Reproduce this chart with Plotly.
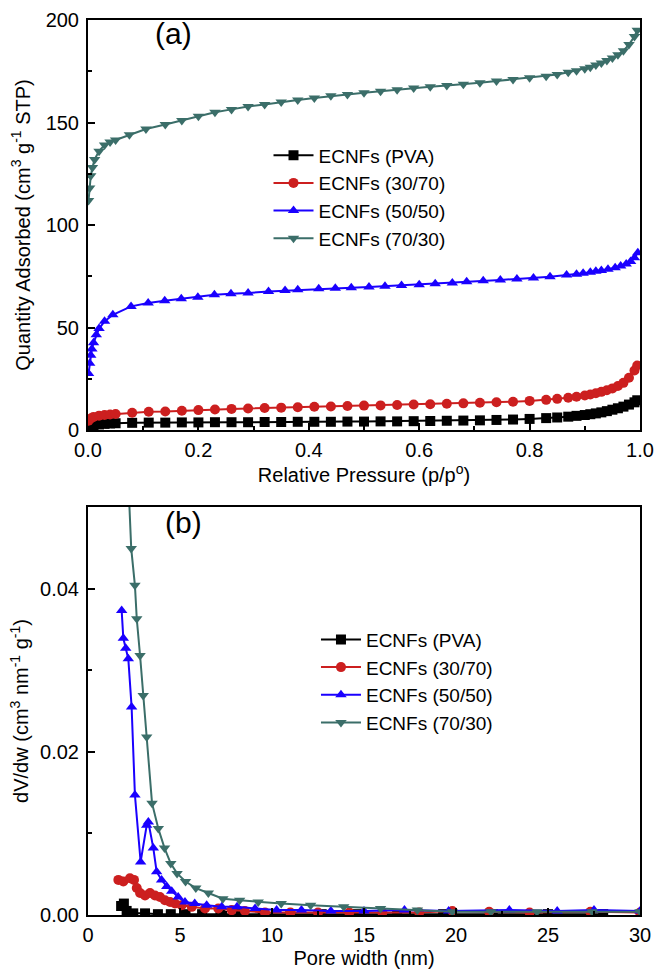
import plotly.graph_objects as go

# ---------------- (a) isotherms ----------------
p_pva = [0.001, 0.005, 0.01, 0.02, 0.03, 0.04, 0.05, 0.08, 0.11, 0.14, 0.17, 0.2, 0.23, 0.26, 0.29, 0.32,
         0.35, 0.38, 0.41, 0.44, 0.47, 0.5, 0.53, 0.56, 0.59, 0.62, 0.65, 0.68, 0.71, 0.74, 0.77, 0.8,
         0.83, 0.85, 0.87, 0.885, 0.9, 0.91, 0.92, 0.93, 0.94, 0.95, 0.96, 0.97, 0.98, 0.99, 0.995]
q_pva = [0.8, 1.6, 2.2, 2.7, 3.0, 3.2, 3.3, 3.5, 3.6, 3.6, 3.7, 3.7, 3.8, 3.8, 3.8, 3.9,
         3.9, 4.0, 4.0, 4.0, 4.1, 4.1, 4.2, 4.2, 4.3, 4.4, 4.5, 4.6, 4.7, 4.9, 5.1, 5.4,
         5.8, 6.1, 6.5, 6.9, 7.3, 7.7, 8.1, 8.6, 9.2, 9.9, 10.6, 11.4, 12.4, 13.5, 14.5]

p_3070 = [0.001, 0.005, 0.01, 0.02, 0.03, 0.04, 0.05, 0.08, 0.11, 0.14, 0.17, 0.2, 0.23, 0.26, 0.29, 0.32,
          0.35, 0.38, 0.41, 0.44, 0.47, 0.5, 0.53, 0.56, 0.59, 0.62, 0.65, 0.68, 0.71, 0.74, 0.77, 0.8,
          0.83, 0.85, 0.87, 0.885, 0.9, 0.91, 0.92, 0.93, 0.94, 0.95, 0.96, 0.97, 0.98, 0.99, 0.995]
q_3070 = [4.5, 5.6, 6.4, 7.0, 7.3, 7.6, 7.8, 8.4, 8.9, 9.0, 9.4, 9.7, 10.0, 10.3, 10.5, 10.7,
          10.9, 11.1, 11.3, 11.5, 11.7, 11.9, 12.0, 12.2, 12.4, 12.6, 12.8, 13.0, 13.3, 13.5, 13.8, 14.2,
          14.7, 15.2, 15.7, 16.2, 16.8, 17.3, 17.9, 18.6, 19.4, 20.3, 21.5, 23.0, 25.5, 29.0, 31.5]

p_5050 = [0.001, 0.003, 0.005, 0.007, 0.01, 0.015, 0.02, 0.03, 0.045, 0.078, 0.109, 0.139, 0.169, 0.199,
          0.229, 0.259, 0.29, 0.327, 0.357, 0.38, 0.418, 0.448, 0.477, 0.509, 0.538, 0.568, 0.6, 0.629,
          0.66, 0.686, 0.716, 0.747, 0.777, 0.807, 0.837, 0.867, 0.885, 0.897, 0.91, 0.92, 0.93, 0.942,
          0.955, 0.965, 0.975, 0.983, 0.99, 0.996]
q_5050 = [27.5, 32.5, 36.5, 39.5, 42.5, 46.5, 49.5, 53.0, 56.2, 60.3, 61.9, 63.0, 64.0, 64.8,
          66.0, 66.5, 66.8, 67.6, 68.0, 68.4, 68.9, 69.2, 69.4, 69.7, 70.1, 70.5, 70.9, 71.3,
          71.7, 72.3, 72.8, 73.2, 73.7, 74.1, 74.8, 75.6, 76.0, 76.5, 77.0, 77.4, 77.8, 78.4,
          79.2, 80.0, 81.0, 82.2, 84.0, 86.5]

p_7030 = [0.001, 0.003, 0.005, 0.008, 0.012, 0.02, 0.03, 0.04, 0.05, 0.075, 0.105, 0.14, 0.17, 0.2,
          0.23, 0.26, 0.29, 0.32, 0.35, 0.38, 0.41, 0.44, 0.47, 0.5, 0.53, 0.56, 0.59, 0.62, 0.65,
          0.68, 0.71, 0.74, 0.77, 0.8, 0.83, 0.85, 0.87, 0.885, 0.9, 0.91, 0.92, 0.93, 0.94, 0.95,
          0.96, 0.97, 0.98, 0.99, 0.995]
q_7030 = [112.0, 118.0, 124.0, 128.0, 132.0, 136.0, 139.0, 140.5, 141.5, 144.0, 146.8, 149.0, 151.0, 153.0,
          155.0, 156.4, 157.8, 158.8, 160.0, 161.0, 162.0, 163.0, 163.7, 164.5, 165.3, 166.0, 166.8, 167.4, 168.1,
          168.6, 169.4, 170.2, 171.0, 171.8, 172.6, 173.4, 174.5, 175.3, 176.2, 177.0, 178.0, 179.0, 180.2, 181.5,
          183.0, 185.0, 188.0, 192.0, 195.0]

# ---------------- (b) pore size distribution ----------------
w_pva = [1.8, 1.95, 2.1, 2.46, 3.1, 3.8, 4.5, 5.3, 6.2, 7.2, 8.3, 9.5, 11.0, 12.7, 14.6, 16.8, 19.3, 22.0, 25.0, 28.0]
v_pva = [0.0011, 0.0014, 0.0005, 0.0002, 0.0002, 0.0001, 0.0001, 0.0001, 0.0001, 0.0001, 0.0001, 0.0001,
         0.0001, 0.0001, 0.0001, 0.0001, 0.0001, 0.0001, 0.0001, 0.0001]

w_3070 = [1.65, 1.92, 2.28, 2.5, 2.65, 2.83, 3.1, 3.37, 3.64, 3.91, 4.18, 4.46, 4.73, 5.09, 5.64, 6.36, 7.08,
          7.81, 8.53, 9.62, 11.0, 12.5, 14.2, 16.0, 18.0, 19.8, 21.8, 24.0, 27.3, 30.0]
v_3070 = [0.0043, 0.0041, 0.0045, 0.0043, 0.0033, 0.0027, 0.0024, 0.0027, 0.0024, 0.0022, 0.0018, 0.0016,
          0.0014, 0.0012, 0.0010, 0.0008, 0.0008, 0.0006, 0.0005, 0.0003, 0.0003, 0.0003, 0.0003, 0.0003,
          0.0003, 0.0005, 0.0004, 0.0003, 0.0004, 0.0003]

w_5050 = [1.83, 1.92, 2.05, 2.19, 2.37, 2.55, 2.86, 3.19, 3.28, 3.55, 3.73, 4.0, 4.28, 4.55, 4.9, 5.27, 5.8,
          6.45, 7.27, 8.1, 9.08, 10.25, 11.6, 13.2, 15.0, 17.2, 19.6, 22.9, 25.5, 27.5, 30.0]
v_5050 = [0.0373, 0.0339, 0.0327, 0.0314, 0.0255, 0.0147, 0.0065, 0.0110, 0.0114, 0.0082, 0.0053, 0.0043,
          0.0035, 0.0029, 0.0022, 0.0016, 0.0014, 0.0012, 0.0010, 0.0010, 0.0008, 0.0006, 0.0006, 0.0005,
          0.0005, 0.0006, 0.0005, 0.0006, 0.0005, 0.0006, 0.0005]

w_7030 = [2.1, 2.35, 2.55, 2.65, 2.83, 3.0, 3.19, 3.48, 3.82, 4.16, 4.5, 4.84, 5.3, 5.86, 6.54, 7.33, 8.24,
          9.25, 10.5, 12.1, 13.9, 15.9, 17.9, 19.8, 21.9, 24.4, 27.4, 30.0]
v_7030 = [0.058, 0.0449, 0.0404, 0.0363, 0.0318, 0.0269, 0.0218, 0.0137, 0.0106, 0.0082, 0.0063, 0.0051,
          0.0041, 0.0033, 0.0027, 0.0020, 0.0018, 0.0016, 0.0014, 0.0012, 0.0010, 0.0008, 0.0006, 0.0004,
          0.0004, 0.0004, 0.0004, 0.0004]

names = ["ECNFs (PVA)", "ECNFs (30/70)", "ECNFs (50/50)", "ECNFs (70/30)"]
colors = ["#000000", "#cc1f1f", "#1a00ff", "#3b6e69"]
symbols = ["square", "circle", "triangle-up", "triangle-down"]

FONT = "Liberation Sans, Arial, sans-serif"

fig = go.Figure()

iso = [(p_pva, q_pva), (p_3070, q_3070), (p_5050, q_5050), (p_7030, q_7030)]
psd = [(w_pva, v_pva), (w_3070, v_3070), (w_5050, v_5050), (w_7030, v_7030)]

for (x, y), n, c, s in zip(iso, names, colors, symbols):
    fig.add_trace(go.Scatter(x=x, y=y, name=n, mode="lines+markers",
                             line=dict(color=c, width=2),
                             marker=dict(symbol=s, size=10, color=c),
                             xaxis="x", yaxis="y", legend="legend"))

for (x, y), n, c, s in zip(psd, names, colors, symbols):
    fig.add_trace(go.Scatter(x=x, y=y, name=n, mode="lines+markers",
                             line=dict(color=c, width=2),
                             marker=dict(symbol=s, size=10, color=c),
                             xaxis="x2", yaxis="y2", legend="legend2"))

axis_common = dict(showline=True, linewidth=2, linecolor="black", mirror=True,
                   ticks="inside", ticklen=7, tickwidth=2, tickcolor="black",
                   showgrid=False, zeroline=False, automargin=False,
                   tickfont=dict(family=FONT, size=20, color="black"),
                   title_font=dict(family=FONT, size=20, color="black"))

fig.update_layout(
    width=654, height=972,
    margin=dict(l=88, r=14, t=20, b=57),
    paper_bgcolor="white", plot_bgcolor="white",
    font=dict(family=FONT, size=20, color="black"),
    xaxis=dict(domain=[0, 1], anchor="y", range=[0, 1], dtick=0.2, tickformat=".1f", ticklabelstandoff=1,
               minor=dict(ticks="inside", ticklen=4, tickwidth=2, dtick=0.1, tickcolor="black"),
               title=dict(text="Relative Pressure (p/p<sup>o</sup>)", standoff=6), **axis_common),
    yaxis=dict(domain=[0.5419, 1.0], anchor="x", range=[0, 200], dtick=50, ticklabelstandoff=3,
               minor=dict(ticks="inside", ticklen=4, tickwidth=2, dtick=25, tickcolor="black"),
               title=dict(text="Quantity Adsorbed (cm<sup>3</sup> g<sup>-1</sup> STP)", standoff=10), **axis_common),
    xaxis2=dict(domain=[0, 1], anchor="y2", range=[0, 30], dtick=5, ticklabelstandoff=1,
                minor=dict(ticks="inside", ticklen=4, tickwidth=2, dtick=2.5, tickcolor="black"),
                title=dict(text="Pore width (nm)", standoff=6), **axis_common),
    yaxis2=dict(domain=[0, 0.4559], anchor="x2", range=[0, 0.05], dtick=0.02, tickformat=".2f", ticklabelstandoff=3,
                minor=dict(ticks="inside", ticklen=4, tickwidth=2, dtick=0.01, tickcolor="black"),
                title=dict(text="dV/dw (cm<sup>3</sup> nm<sup>-1</sup> g<sup>-1</sup>)", standoff=6), **axis_common),
    legend=dict(x=0.327, y=0.87, xanchor="left", yanchor="top", bgcolor="rgba(0,0,0,0)",
                font=dict(family=FONT, size=19, color="black"), tracegroupgap=0, itemwidth=40),
    legend2=dict(x=0.413, y=0.329, xanchor="left", yanchor="top", bgcolor="rgba(0,0,0,0)",
                 font=dict(family=FONT, size=19, color="black"), tracegroupgap=0, itemwidth=40),
    showlegend=True,
    annotations=[
        dict(text="(a)", x=0.154, y=200, xref="x", yref="y", xanchor="center", yanchor="middle",
             yshift=-13, showarrow=False, font=dict(family=FONT, size=30, color="black")),
        dict(text="(b)", x=5.2, y=0.05, xref="x2", yref="y2", xanchor="center", yanchor="middle",
             yshift=-16, showarrow=False, font=dict(family=FONT, size=30, color="black")),
    ],
)

fig.write_html("out.html", config={"displayModeBar": False},
               post_script="document.body.style.margin='0px';document.body.style.overflow='hidden';")
